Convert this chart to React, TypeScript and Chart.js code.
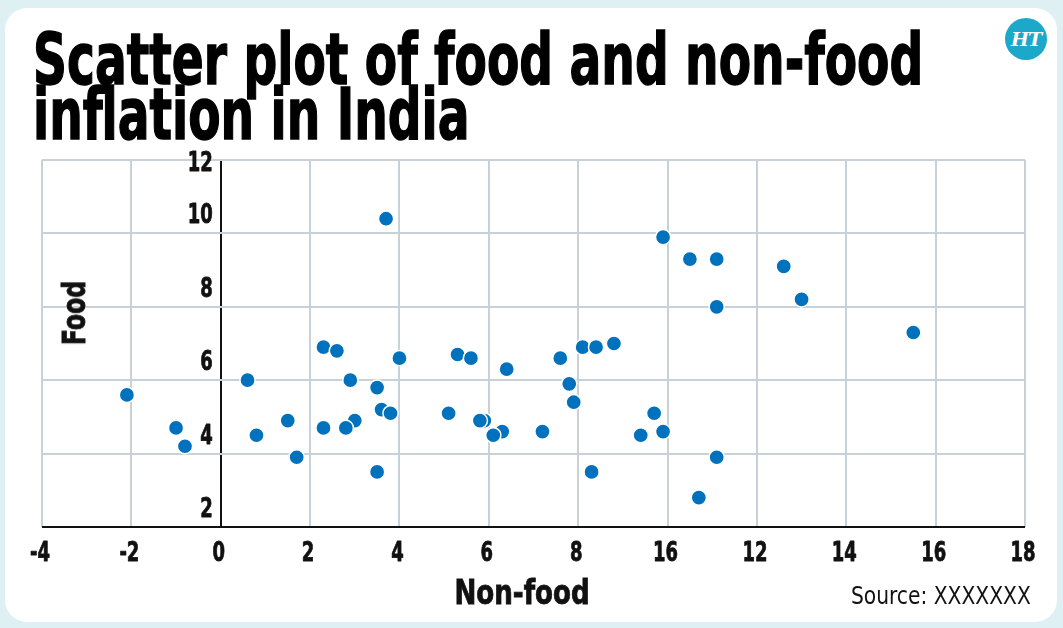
import React, { useEffect, useRef } from "react";
import { Chart, registerables } from "chart.js";

Chart.register(...registerables);

// Non-food inflation (x) and food inflation (y), one point per observation
const nonFood = [
  -2.1, -1.0, -0.8, 0.6, 0.8, 1.5, 1.7, 2.3, 2.6, 2.3, 2.9, 3.0, 2.8, 3.5, 3.6, 3.8,
  3.5, 3.7, 4.0, 5.3, 5.6, 5.1, 5.9, 5.8, 6.3, 6.1, 6.4, 7.2, 7.6, 7.8, 7.9, 8.1,
  8.4, 8.3, 8.8, 9.4, 9.7, 9.9, 9.9, 10.5, 11.1, 11.1, 12.6, 13.0, 15.5, 11.1, 10.7,
];
const food = [
  5.6, 4.7, 4.2, 6.0, 4.5, 4.9, 3.9, 6.9, 6.8, 4.7, 6.0, 4.9, 4.7, 5.8, 5.2, 5.1,
  3.5, 10.4, 6.6, 6.7, 6.6, 5.1, 4.9, 4.9, 4.6, 4.5, 6.3, 4.6, 6.6, 5.9, 5.4, 6.9,
  6.9, 3.5, 7.0, 4.5, 5.1, 4.6, 9.9, 9.3, 9.3, 8.0, 9.1, 8.2, 7.3, 3.9, 2.8,
];

// Axis tick labels as printed
const xTickLabels = ["-4", "-2", "0", "2", "4", "6", "8", "16", "12", "14", "16", "18"];
const yTickLabels = ["2", "4", "6", "8", "10", "12"];

const FONT = '"DejaVu Sans Condensed", "DejaVu Sans", sans-serif';
const GRID = "#c8d1d7";
const DOT = "#0071bc";
const TICK_SQUEEZE = 0.74;

// Writes heavy text horizontally squeezed around its anchor point
function narrowText(ctx: CanvasRenderingContext2D, text: string, x: number, y: number, sx: number) {
  ctx.save();
  ctx.translate(x, y);
  ctx.scale(sx, 1);
  ctx.fillText(text, 0, 0);
  ctx.strokeText(text, 0, 0);
  ctx.restore();
}

// Tick labels: x labels under the axis, y labels beside the zero line just above each grid line
const tickLabelPlugin = {
  id: "narrowTickLabels",
  afterDraw(chart: any) {
    const { ctx, scales, chartArea } = chart;
    const xs = scales.x;
    const ys = scales.y;
    ctx.save();
    ctx.font = `bold 27px ${FONT}`;
    ctx.fillStyle = "#111";
    ctx.strokeStyle = "#111";
    ctx.lineWidth = 0.8;
    ctx.lineJoin = "round";
    ctx.textBaseline = "middle";

    ctx.textAlign = "center";
    xs.ticks.forEach((t: any, i: number) => {
      const px = xs.getPixelForValue(t.value);
      narrowText(ctx, xTickLabels[i] ?? String(t.value), px - 2, chartArea.bottom + 27, TICK_SQUEEZE);
    });

    ctx.textAlign = "right";
    const x0 = xs.getPixelForValue(0) - 8;
    ys.ticks.forEach((t: any, i: number) => {
      const py = Math.max(ys.getPixelForValue(t.value) - 17, chartArea.top + 4);
      narrowText(ctx, yTickLabels[i] ?? String(t.value), x0, py, TICK_SQUEEZE);
    });
    ctx.restore();
  },
};

export default function App() {
  const canvasRef = useRef<HTMLCanvasElement | null>(null);

  useEffect(() => {
    document.body.style.margin = "0";
    const canvas = canvasRef.current;
    if (!canvas) return;
    const points = nonFood.map((x, i) => ({ x, y: food[i] }));
    const chart = new Chart(canvas, {
      type: "scatter",
      data: {
        datasets: [
          {
            data: points,
            backgroundColor: DOT,
            borderColor: "#ffffff",
            borderWidth: 1.5,
            pointRadius: 7.6,
            pointHoverRadius: 7.6,
          },
        ],
      },
      options: {
        responsive: false,
        animation: false,
        events: [],
        layout: { padding: { left: 42, right: 38, top: 160, bottom: 0 } },
        plugins: {
          legend: { display: false },
          tooltip: { enabled: false },
        },
        scales: {
          x: {
            type: "linear",
            min: -4,
            max: 18,
            afterFit: (scale: any) => {
              scale.height = 101;
            },
            ticks: { stepSize: 2, display: false },
            border: { display: false },
            grid: {
              drawTicks: false,
              lineWidth: 2,
              color: (c: any) => (c.tick && c.tick.value === 0 ? "#111" : GRID),
            },
          },
          y: {
            type: "linear",
            min: 2,
            max: 12,
            afterFit: (scale: any) => {
              scale.width = 0;
            },
            ticks: { stepSize: 2, display: false },
            border: { display: false },
            grid: {
              drawTicks: false,
              lineWidth: 2,
              color: (c: any) => (c.tick && c.tick.value === 2 ? "#111" : GRID),
            },
          },
        },
      },
      plugins: [tickLabelPlugin],
    });
    return () => chart.destroy();
  }, []);

  const narrow = (sx: number, extra = ""): React.CSSProperties => ({
    transform: `${extra} scaleX(${sx})`.trim(),
  });

  return (
    <div
      style={{
        position: "relative",
        width: 1063,
        height: 628,
        background: "#dff0f4",
        overflow: "hidden",
        fontFamily: FONT,
      }}
    >
      <div
        style={{
          position: "absolute",
          left: 5,
          top: 8,
          width: 1052,
          height: 614,
          background: "#ffffff",
          borderRadius: 22,
        }}
      />
      <div
        style={{
          position: "absolute",
          left: 33,
          top: 32,
          fontSize: 72,
          lineHeight: "55px",
          fontWeight: 700,
          color: "#000",
          whiteSpace: "nowrap",
          WebkitTextStroke: "1.4px #000",
          transformOrigin: "0 0",
          ...narrow(0.728),
        }}
      >
        Scatter plot of food and non-food
        <br />
        inflation in India
      </div>
      <div
        style={{
          position: "absolute",
          left: 1005,
          top: 18,
          width: 42,
          height: 42,
          borderRadius: "50%",
          background: "#1ba8c9",
          color: "#fff",
          fontFamily: '"DejaVu Serif", serif',
          fontWeight: 700,
          fontStyle: "italic",
          fontSize: 19,
          lineHeight: "42px",
          textAlign: "center",
          letterSpacing: "-1px",
        }}
      >
        HT
      </div>
      <canvas
        ref={canvasRef}
        width={1063}
        height={628}
        style={{ position: "absolute", left: 0, top: 0, width: 1063, height: 628 }}
      />
      <div
        style={{
          position: "absolute",
          left: 74,
          top: 313,
          fontSize: 32,
          fontWeight: 700,
          color: "#111",
          whiteSpace: "nowrap",
          WebkitTextStroke: "0.8px #111",
          ...narrow(0.82, "translate(-50%, -50%) rotate(-90deg)"),
        }}
      >
        Food
      </div>
      <div
        style={{
          position: "absolute",
          left: 522,
          top: 592,
          fontSize: 33,
          fontWeight: 700,
          color: "#111",
          whiteSpace: "nowrap",
          WebkitTextStroke: "0.8px #111",
          ...narrow(0.88, "translate(-50%, -50%)"),
        }}
      >
        Non-food
      </div>
      <div
        style={{
          position: "absolute",
          right: 32,
          top: 595,
          fontSize: 25,
          color: "#111",
          whiteSpace: "nowrap",
          transformOrigin: "100% 50%",
          ...narrow(0.9, "translateY(-50%)"),
        }}
      >
        Source: XXXXXXX
      </div>
    </div>
  );
}
